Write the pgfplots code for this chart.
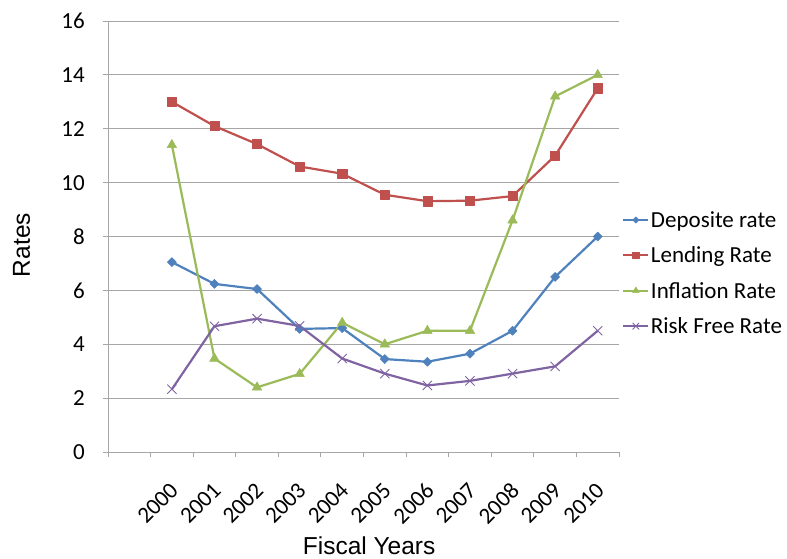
\documentclass[border=0pt]{standalone}
\usepackage{fontspec}
\setmainfont{Carlito}
\newfontfamily\arialfont{Liberation Sans}
\usepackage{pgfplots}
\pgfplotsset{compat=1.18}
\definecolor{cblue}{HTML}{4F81BD}
\definecolor{cred}{HTML}{C0504D}
\definecolor{cgreen}{HTML}{9BBB59}
\definecolor{cpurple}{HTML}{8064A2}
\definecolor{gridc}{HTML}{A6A6A6}
\begin{document}
\begin{tikzpicture}
\useasboundingbox (-108bp,-107bp) rectangle (679bp,452bp);
\begin{axis}[
  scale only axis, width=511bp, height=431bp,
  at={(0,0)}, anchor=south west,
  clip=false,
  xmin=-0.5, xmax=11.5, ymin=0, ymax=16,
  axis x line*=bottom, axis y line*=left,
  axis line style={draw=gridc, line width=0.9bp, -},
  xtick={1,2,3,4,5,6,7,8,9,10,11},
  xticklabels={2000,2001,2002,2003,2004,2005,2006,2007,2008,2009,2010},
  minor xtick={-0.5,0.5,1.5,2.5,3.5,4.5,5.5,6.5,7.5,8.5,9.5,10.5,11.5},
  ytick={0,2,4,6,8,10,12,14,16},
  ymajorgrids, grid style={draw=gridc, line width=0.9bp},
  tick align=outside, major tick length=5bp, minor tick length=5bp,
  major x tick style={draw=none},
  minor x tick style={draw=gridc, line width=0.9bp},
  major y tick style={draw=gridc, line width=0.9bp},
  /pgf/number format/assume math mode=true,
  ticklabel style={font=\fontsize{23bp}{27bp}\selectfont, text=black},
  xticklabel style={xshift=-3bp, yshift=-24bp, rotate=45, anchor=north east, inner sep=0pt},
  yticklabel style={anchor=east, inner sep=0pt, xshift=-18bp},
  xlabel={Fiscal Years},
  ylabel={Rates},
  xlabel style={font=\fontsize{24.5bp}{28bp}\selectfont\arialfont, at={(axis description cs:0.511,-0.2367)}, anchor=base},
  ylabel style={font=\fontsize{24.5bp}{28bp}\selectfont\arialfont, at={(axis description cs:-0.169,0.48)}, anchor=center},
  legend style={draw=none, fill=none, at={(1.006,0.415)}, anchor=west,
    font=\fontsize{23bp}{27bp}\selectfont, row sep=15bp, inner sep=0pt,
    nodes={inner sep=1.5bp}},
  legend cell align=left,
  legend image code/.code={\draw[mark repeat=2,mark phase=2,/tikz/every mark/.append style={scale=0.7}] plot coordinates {(0bp,0bp)(12.5bp,0bp)(25bp,0bp)};},
  every axis plot/.append style={line width=2.2bp, line join=round},
]
\addplot[color=cblue, mark=square*, mark size=3.2bp, mark options={rotate=45, solid, fill=cblue, line width=0.5bp}]
  coordinates {(1,7.05)(2,6.24)(3,6.05)(4,4.57)(5,4.6)(6,3.45)(7,3.35)(8,3.65)(9,4.5)(10,6.5)(11,8.0)};
\addlegendentry{Deposite rate}
\addplot[color=cred, mark=square*, mark size=4.6bp, mark options={solid, fill=cred, line width=0.5bp}]
  coordinates {(1,13.0)(2,12.1)(3,11.43)(4,10.6)(5,10.33)(6,9.55)(7,9.31)(8,9.33)(9,9.5)(10,11.0)(11,13.5)};
\addlegendentry{Lending Rate}
\addplot[color=cgreen, mark=triangle*, mark size=5.5bp, mark options={solid, fill=cgreen, line width=0.5bp}]
  coordinates {(1,11.4)(2,3.47)(3,2.4)(4,2.9)(5,4.8)(6,4.0)(7,4.5)(8,4.5)(9,8.6)(10,13.2)(11,14.0)};
\addlegendentry{Inflation Rate}
\addplot[color=cpurple, mark=x, mark size=6.5bp, mark options={solid, line width=0.9bp}]
  coordinates {(1,2.33)(2,4.67)(3,4.95)(4,4.68)(5,3.47)(6,2.91)(7,2.47)(8,2.64)(9,2.91)(10,3.18)(11,4.5)};
\addlegendentry{Risk Free Rate}
\end{axis}
\end{tikzpicture}
\end{document}
